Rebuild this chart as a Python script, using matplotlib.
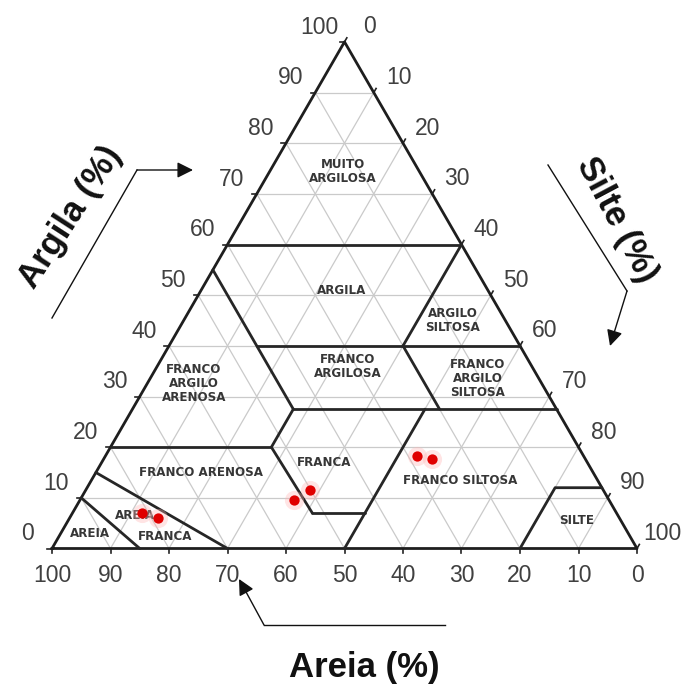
import matplotlib
matplotlib.use("Agg")
import matplotlib.pyplot as plt
import numpy as np

# sample points (percent clay / silt / sand)
sample_clay = [7.0, 6.0, 9.5, 11.5, 18.3, 17.7]
sample_silt = [11.9, 15.1, 36.7, 38.4, 53.3, 56.1]
sample_sand = [81.1, 78.9, 53.8, 50.1, 28.4, 26.2]

ticks = [0, 10, 20, 30, 40, 50, 60, 70, 80, 90, 100]

# texture class boundaries as (clay, silt) end points
boundaries = [
    [(60, 0), (60, 40)],
    [(55, 0), (27.5, 27.5)],
    [(40, 15), (40, 60)],
    [(60, 40), (40, 40)],
    [(27.5, 27.5), (27.5, 72.5)],
    [(40, 40), (27.5, 52.5)],
    [(20, 0), (20, 27.5)],
    [(20, 27.5), (27.5, 27.5)],
    [(20, 27.5), (7, 41)],
    [(7, 41), (7, 50)],
    [(0, 50), (27.5, 50)],
    [(0, 80), (12, 80), (12, 88)],
    [(15, 0), (0, 30)],
    [(10, 0), (0, 15)],
]

# class names with (clay, silt) anchor
class_labels = [
    ("MUITO\nARGILOSA", 74.5, 12.5),
    ("ARGILA", 51, 24),
    ("ARGILO\nSILTOSA", 45, 46),
    ("FRANCO\nARGILO\nARENOSA", 32.5, 8),
    ("FRANCO\nARGILOSA", 36, 32.5),
    ("FRANCO\nARGILO\nSILTOSA", 33.5, 56),
    ("FRANCO ARENOSA", 15, 18),
    ("FRANCA", 17, 38),
    ("FRANCO SILTOSA", 13.5, 63),
    ("SILTE", 5.5, 87),
    ("AREIA", 3, 5),
    ("AREIA", 6.5, 11),
    ("FRANCA", 2.3, 18.2),
]

H = np.sqrt(3) / 2


def tern(clay, silt):
    clay = np.asarray(clay, dtype=float)
    silt = np.asarray(silt, dtype=float)
    return silt + clay / 2, clay * H


W, HT = 683, 686
S = 5.85           # pixels per percent
x0, y0 = 52, 548.5  # pixel position of the 100 % sand corner

fig = plt.figure(figsize=(W / 100, HT / 100), dpi=100)
ax = fig.add_axes([0, 0, 1, 1])
ax.set_xlim(-x0 / S, (W - x0) / S)
ax.set_ylim((y0 - HT) / S, y0 / S)
ax.set_aspect("equal")
ax.axis("off")

# light grid every 10 %
grid_kw = dict(color="#cacaca", lw=0.9, zorder=1)
for v in range(10, 100, 10):
    ax.plot(*tern([v, v], [0, 100 - v]), **grid_kw)        # clay
    ax.plot(*tern([0, 100 - v], [v, v]), **grid_kw)        # silt
    ax.plot(*tern([0, 100 - v], [100 - v, 0]), **grid_kw)  # sand

# outline
ax.plot(*tern([0, 0, 100, 0], [0, 100, 0, 0]), color="#1e1e1e", lw=2.0, zorder=3)

for seg in boundaries:
    c, s = zip(*seg)
    ax.plot(*tern(c, s), color="#262626", lw=2.0, zorder=3,
            solid_capstyle="round")

lab_kw = dict(ha="center", va="center", fontsize=8.6, fontweight="bold",
              color="#363636", family="DejaVu Sans", linespacing=1.1, zorder=4)
for name, c, s in class_labels:
    x, y = tern(c, s)
    ax.text(x, y, name, **lab_kw)

# axis ticks and labels
tick_col = "#404040"
tick_kw = dict(ha="center", va="center", fontsize=16.5, color=tick_col,
               family="Liberation Sans", textcoords="offset points")
tk = 0.8
for v in ticks:
    # clay on the left edge
    x, y = tern(v, 0)
    ax.plot([x, x - tk], [y, y], color="#222222", lw=1.2)
    ax.annotate(str(v), (x, y), xytext=(-18, 10.5), **tick_kw)
    # silt on the right edge
    x, y = tern(100 - v, v)
    ax.plot([x, x + tk * 0.5], [y, y + tk * H], color="#222222", lw=1.2)
    ax.annotate(str(v), (x, y), xytext=(18, 10.8), **tick_kw)
    # sand on the base
    x, y = tern(0, 100 - v)
    ax.plot([x, x], [y, y - tk], color="#222222", lw=1.2)
    ax.annotate(str(v), (x, y), xytext=(0, -19.5), **tick_kw)

# samples
sx, sy = tern(sample_clay, sample_silt)
ax.scatter(sx, sy, s=190, color="#ffb3b3", alpha=0.35, lw=0, zorder=5)
ax.scatter(sx, sy, s=55, color="#e00000", lw=0, zorder=6)


def fp(x, y):
    return x / W, 1 - y / HT


title_kw = dict(fontsize=25, fontweight="bold", color="#111111",
                family="Liberation Sans", ha="center", va="center")
fig.text(*fp(70, 217), "Argila (%)", rotation=57, **title_kw)
fig.text(*fp(617, 220), "Silte (%)", rotation=-62, **title_kw)
fig.text(*fp(364, 667), "Areia (%)", **title_kw)

arrow_kw = dict(arrowstyle="-|>", color="#111111", lw=1.0,
                mutation_scale=24, shrinkA=0, shrinkB=0)
line_kw = dict(color="#111111", lw=1.0, transform=fig.transFigure)

# Argila arrow
fig.add_artist(plt.Line2D(*zip(fp(52, 318), fp(137, 170)), **line_kw))
ax.annotate("", xy=fp(193, 170), xytext=fp(137, 170), xycoords="figure fraction",
            textcoords="figure fraction", arrowprops=arrow_kw)
# Silte arrow
fig.add_artist(plt.Line2D(*zip(fp(548, 165), fp(627, 291)), **line_kw))
ax.annotate("", xy=fp(610, 346), xytext=fp(627, 291), xycoords="figure fraction",
            textcoords="figure fraction", arrowprops=arrow_kw)
# Areia arrow
fig.add_artist(plt.Line2D(*zip(fp(445, 625), fp(264, 625)), **line_kw))
ax.annotate("", xy=fp(239, 579), xytext=fp(264, 625), xycoords="figure fraction",
            textcoords="figure fraction", arrowprops=arrow_kw)

fig.savefig("out.png", dpi=100, facecolor="white")
